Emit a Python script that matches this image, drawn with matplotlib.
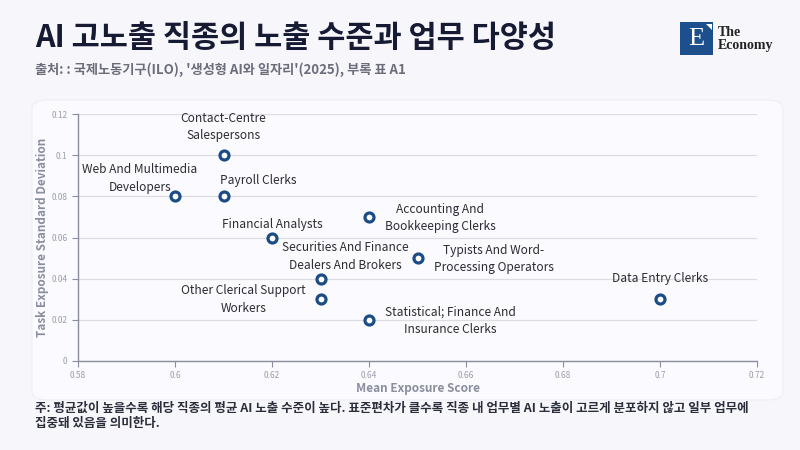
import matplotlib
matplotlib.use("Agg")
import matplotlib.pyplot as plt
from matplotlib.patches import FancyBboxPatch, Rectangle, Polygon

plt.rcParams["font.family"] = ["Noto Sans CJK KR", "DejaVu Sans"]

# data
occupations = [
    "Contact-Centre\nSalespersons",
    "Web And Multimedia\nDevelopers",
    "Payroll Clerks",
    "Financial Analysts",
    "Accounting And\nBookkeeping Clerks",
    "Securities And Finance\nDealers And Brokers",
    "Typists And Word-\nProcessing Operators",
    "Other Clerical Support\nWorkers",
    "Statistical; Finance And\nInsurance Clerks",
    "Data Entry Clerks",
]
mean_exposure = [0.61, 0.60, 0.61, 0.62, 0.64, 0.63, 0.65, 0.63, 0.64, 0.70]
task_sd = [0.10, 0.08, 0.08, 0.06, 0.07, 0.04, 0.05, 0.03, 0.02, 0.03]

x_ticks = [0.58, 0.6, 0.62, 0.64, 0.66, 0.68, 0.7, 0.72]
y_ticks = [0, 0.02, 0.04, 0.06, 0.08, 0.1, 0.12]

# label placement (pixel offsets from the point, horizontal alignment)
label_pos = [
    ((0, 28), "center"),
    ((-35, 18), "center"),
    ((35, 16), "center"),
    ((0, 13), "center"),
    ((16, -1), "left"),
    ((25, 22), "center"),
    ((16, -1), "left"),
    ((-15, 0), "right"),
    ((16, -1), "left"),
    ((0, 21), "center"),
]

BG = "#f6f6fb"
CARD = "#fafaff"
NAVY = "#161a33"
POINT = "#1b4c86"
AXIS_GREY = "#8a8e9e"
GRID = "#dcdde3"

fig = plt.figure(figsize=(8, 4.5), dpi=100)
fig.patch.set_facecolor(BG)

# chart card
card = FancyBboxPatch((32 / 800, 1 - 400 / 450), 751 / 800, 300 / 450,
                      boxstyle="round,pad=0,rounding_size=0.02",
                      transform=fig.transFigure, facecolor=CARD,
                      edgecolor="#eeeef4", linewidth=0.8, zorder=-5)
fig.patches.append(card)

# title / subtitle
fig.text(35 / 800, 1 - 38 / 450, "AI 고노출 직종의 노출 수준과 업무 다양성",
         fontsize=22, fontweight="bold", color=NAVY, va="center", ha="left")
fig.text(35 / 800, 1 - 70 / 450,
         "출처: : 국제노동기구(ILO), '생성형 AI와 일자리'(2025), 부록 표 A1",
         fontsize=9.5, fontweight="bold", color="#6b6e7a", va="center", ha="left")

# logo
fig.patches.append(Rectangle((680 / 800, 1 - 55 / 450), 33 / 800, 33 / 450,
                             transform=fig.transFigure, facecolor="#1d4f8c",
                             edgecolor="none"))
fig.patches.append(Polygon([(706 / 800, 1 - 24 / 450), (712 / 800, 1 - 24 / 450),
                            (712 / 800, 1 - 30 / 450)],
                           transform=fig.transFigure, facecolor="white",
                           edgecolor="none"))
fig.text(696 / 800, 1 - 39 / 450, "E", fontsize=19, family="Liberation Serif",
         color="white", ha="center", va="center")
fig.text(718 / 800, 1 - 33 / 450, "The", fontsize=10, family="Liberation Serif",
         fontweight="bold", color="#222", ha="left", va="center")
fig.text(718 / 800, 1 - 46 / 450, "Economy", fontsize=10, family="Liberation Serif",
         fontweight="bold", color="#222", ha="left", va="center")

# footnote
fig.text(35 / 800, 1 - 408 / 450,
         "주: 평균값이 높을수록 해당 직종의 평균 AI 노출 수준이 높다. 표준편차가 클수록 직종 내 업무별 AI 노출이 고르게 분포하지 않고 일부 업무에",
         fontsize=9, fontweight="bold", color="#2a2d3a", va="center", ha="left")
fig.text(35 / 800, 1 - 424 / 450, "집중돼 있음을 의미한다.",
         fontsize=9, fontweight="bold", color="#2a2d3a", va="center", ha="left")

ax = fig.add_axes([78 / 800, 1 - 361 / 450, (757 - 78) / 800, (361 - 114) / 450])
ax.set_zorder(2)
ax.set_facecolor("none")
ax.set_xlim(0.58, 0.72)
ax.set_ylim(0, 0.12)
ax.set_xticks(x_ticks)
ax.set_xticklabels([f"{v:g}" for v in x_ticks])
ax.set_yticks(y_ticks)
ax.set_yticklabels([f"{v:g}" for v in y_ticks])
ax.tick_params(labelsize=6, colors=AXIS_GREY, length=4, width=0.8)
for lbl in ax.get_xticklabels() + ax.get_yticklabels():
    lbl.set_color("#9a9dab")
ax.grid(axis="y", color=GRID, linewidth=0.9)
ax.set_axisbelow(True)
for s in ("top", "right"):
    ax.spines[s].set_visible(False)
for s in ("left", "bottom"):
    ax.spines[s].set_color(AXIS_GREY)
    ax.spines[s].set_linewidth(1.0)

ax.set_xlabel("Mean Exposure Score", fontsize=8.5, fontweight="bold",
              color=AXIS_GREY, labelpad=1)
ax.set_ylabel("Task Exposure Standard Deviation", fontsize=8.5,
              fontweight="bold", color=AXIS_GREY, labelpad=2)

ax.scatter(mean_exposure, task_sd, s=42, facecolor="white", edgecolor=POINT,
           linewidth=2.3, zorder=3, clip_on=False)

for name, x, y, (off, ha) in zip(occupations, mean_exposure, task_sd, label_pos):
    ax.annotate(name, (x, y), xytext=off, textcoords="offset pixels",
                ha=ha, va="center", multialignment="center",
                fontsize=8.6, color="#2b2b33", linespacing=1.45, zorder=4)

fig.savefig("out.png", dpi=100, facecolor=BG)
